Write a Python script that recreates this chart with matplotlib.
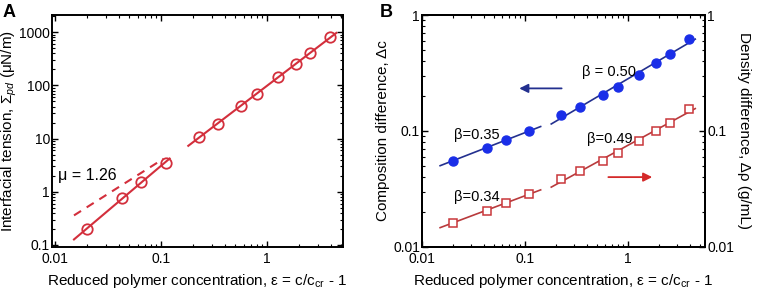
import numpy as np
import matplotlib
matplotlib.use("Agg")
import matplotlib.pyplot as plt
from matplotlib.ticker import FixedLocator, FuncFormatter, LogLocator, NullFormatter

plt.rcParams['font.family'] = ['Liberation Sans', 'DejaVu Sans']
plt.rcParams['mathtext.fontset'] = 'custom'
plt.rcParams['mathtext.rm'] = 'Liberation Sans'
plt.rcParams['mathtext.it'] = 'Liberation Sans:italic'
plt.rcParams['mathtext.bf'] = 'Liberation Sans:bold'

# ---- data ----
eps = [0.020, 0.043, 0.065, 0.110, 0.225, 0.34, 0.57, 0.80, 1.27, 1.88, 2.55, 3.9]
tension = [0.20, 0.78, 1.55, 3.5, 10.6, 19, 41, 70, 143, 255, 405, 800]
comp_diff = [0.0555, 0.072, 0.0835, 0.100, 0.137, 0.162, 0.204, 0.241, 0.304, 0.384, 0.461, 0.618]
dens_diff = [0.0162, 0.0206, 0.0241, 0.0285, 0.0384, 0.045, 0.0555, 0.065, 0.0825, 0.1006, 0.118, 0.154]
mu_ref = 1.26
mu_ref_prefactor = 71.5
beta_labels = ["β=0.35", "β = 0.50", "β=0.34", "β=0.49"]
fit_range_low = (0.015, 0.12)
fit_range_high = (0.18, 4.5)

eps = np.array(eps)
tension = np.array(tension)
comp_diff = np.array(comp_diff)
dens_diff = np.array(dens_diff)
low = slice(0, 4)
high = slice(4, 12)

def fit_line(x, y, xr):
    p = np.polyfit(np.log10(x), np.log10(y), 1)
    xx = np.logspace(np.log10(xr[0]), np.log10(xr[1]), 50)
    return xx, 10 ** np.polyval(p, np.log10(xx))

red_A = '#d32f3c'
blue_pt = '#1a2ee8'
blue_ln = '#23308f'
red_pt = '#c9373a'
red_ln = '#b83a3c'

TICK_FS = 10
LAB_FS = 11

fig = plt.figure(figsize=(7.65, 2.95), dpi=100)
axA = fig.add_axes([52 / 765, 0.163, 291 / 765, 0.786])
axB = fig.add_axes([0.5516, 0.163, 0.370, 0.786])

fmt = FuncFormatter(lambda v, p: '%g' % v)

def style(ax, xlim, ylim, yticks, right=True):
    ax.set_xscale('log'); ax.set_yscale('log')
    ax.set_xlim(*xlim); ax.set_ylim(*ylim)
    ax.xaxis.set_major_locator(FixedLocator([0.01, 0.1, 1]))
    ax.yaxis.set_major_locator(FixedLocator(yticks))
    ax.xaxis.set_minor_locator(LogLocator(base=10, subs=np.arange(2, 10)))
    ax.yaxis.set_minor_locator(LogLocator(base=10, subs=np.arange(2, 10)))
    ax.xaxis.set_major_formatter(fmt); ax.yaxis.set_major_formatter(fmt)
    ax.xaxis.set_minor_formatter(NullFormatter()); ax.yaxis.set_minor_formatter(NullFormatter())
    ax.tick_params(which='both', direction='in', top=True, right=right, labelsize=TICK_FS, pad=1.5)
    ax.tick_params(axis='x', which='both', pad=4)
    ax.tick_params(which='major', length=4, width=1.0)
    ax.tick_params(which='minor', length=2, width=0.8)
    for s in ax.spines.values():
        s.set_linewidth(1.4)

# ---- Panel A ----
style(axA, (0.0093, 5.2), (0.092, 2100), [0.1, 1, 10, 100, 1000])
for sl, xr in ((low, fit_range_low), (high, fit_range_high)):
    xx, yy = fit_line(eps[sl], tension[sl], xr)
    axA.plot(xx, yy, color=red_A, lw=1.5)
xd = np.logspace(np.log10(0.015), np.log10(0.105), 20)
axA.plot(xd, mu_ref_prefactor * xd ** mu_ref, color=red_A, lw=1.5, ls=(0, (4, 3.2)))
axA.plot(eps, tension, 'o', mfc='none', mec=red_A, mew=1.3, ms=7.5, ls='none')
axA.text(0.0106, 2.0, 'μ = %.2f' % mu_ref, fontsize=11.5, va='center', ha='left')
axA.set_xlabel(r'Reduced polymer concentration, ε = c/c$_{\rm cr}$ - 1', fontsize=LAB_FS, labelpad=4)
axA.set_ylabel(r'Interfacial tension, Σ$_{pd}$ (μN/m)', fontsize=LAB_FS)
axA.yaxis.set_label_coords(-0.115, 0.5)
fig.text(0.003, 0.985, 'A', fontsize=13, fontweight='bold', va='top', ha='left')

# ---- Panel B ----
style(axB, (0.01, 5.6), (0.01, 1), [0.01, 0.1, 1], right=False)
axB2 = axB.twinx()
axB2.set_yscale('log'); axB2.set_ylim(0.01, 1)
axB2.yaxis.set_major_locator(FixedLocator([0.01, 0.1, 1]))
axB2.yaxis.set_minor_locator(LogLocator(base=10, subs=np.arange(2, 10)))
axB2.yaxis.set_major_formatter(fmt); axB2.yaxis.set_minor_formatter(NullFormatter())
axB2.tick_params(which='both', direction='in', labelsize=TICK_FS, pad=1.5)
axB2.tick_params(which='major', length=4, width=1.0)
axB2.tick_params(which='minor', length=2, width=0.8)
for s in axB2.spines.values():
    s.set_linewidth(1.4)

for sl, xr in ((low, (0.015, 0.142)), (high, fit_range_high)):
    xx, yy = fit_line(eps[sl], comp_diff[sl], xr)
    axB.plot(xx, yy, color=blue_ln, lw=1.2)
    xx, yy = fit_line(eps[sl], dens_diff[sl], xr)
    axB2.plot(xx, yy, color=red_ln, lw=1.2)
axB.plot(eps, comp_diff, 'o', color=blue_pt, ms=6.5, ls='none')
axB2.plot(eps, dens_diff, 's', mfc='white', mec=red_pt, mew=1.1, ms=5.5, ls='none')

axB.text(0.0205, 0.093, beta_labels[0], fontsize=10.5, va='center', ha='left')
axB.text(0.355, 0.32, beta_labels[1], fontsize=10.5, va='center', ha='left')
axB.text(0.0205, 0.027, beta_labels[2], fontsize=10.5, va='center', ha='left')
axB.text(0.40, 0.086, beta_labels[3], fontsize=10.5, va='center', ha='left')
axB.annotate('', xy=(0.088, 0.233), xytext=(0.227, 0.233),
             arrowprops=dict(arrowstyle='-|>', color=blue_ln, lw=1.3, mutation_scale=13, shrinkA=0, shrinkB=0))
axB.annotate('', xy=(1.72, 0.040), xytext=(0.645, 0.040),
             arrowprops=dict(arrowstyle='-|>', color='#d42a2a', lw=1.3, mutation_scale=13, shrinkA=0, shrinkB=0))

axB.set_xlabel(r'Reduced polymer concentration, ε = c/c$_{\rm cr}$ - 1', fontsize=LAB_FS, labelpad=4)
axB.set_ylabel('Composition difference, Δc', fontsize=LAB_FS)
axB.yaxis.set_label_coords(-0.112, 0.5)
axB2.set_ylabel('Density difference, Δρ (g/mL)', fontsize=LAB_FS, rotation=270, labelpad=12)
fig.text(0.497, 0.985, 'B', fontsize=13, fontweight='bold', va='top', ha='left')

fig.savefig('out.png', dpi=100)
